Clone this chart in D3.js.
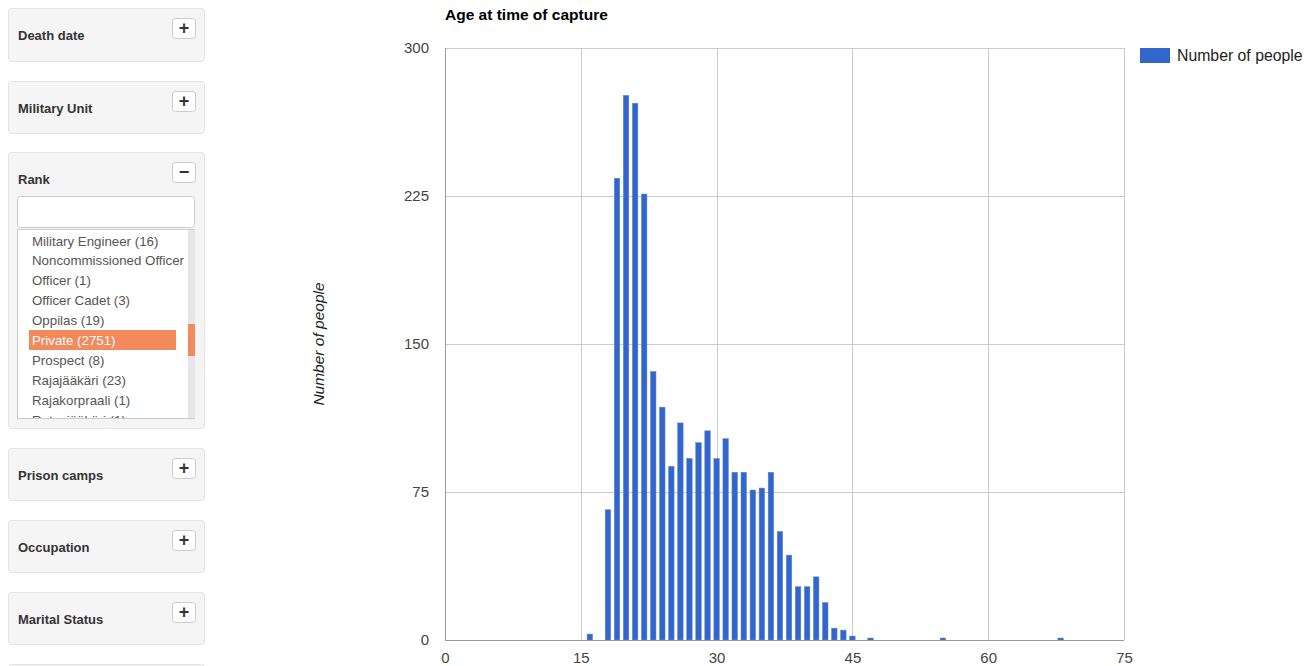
<!DOCTYPE html>
<html>
<head>
<meta charset="utf-8">
<script src="https://cdn.jsdelivr.net/npm/d3@7"></script>
<style>
  html, body { margin: 0; padding: 0; background: #fff; overflow: hidden; }
  svg { display: block; }
  text { font-family: "Liberation Sans", Arial, Helvetica, sans-serif; }
</style>
</head>
<body>
<svg id="chart" width="1316" height="666"></svg>
<script>
// ---- Data ----
const ages   = [16, 18, 19, 20, 21, 22, 23, 24, 25, 26, 27, 28, 29, 30, 31, 32, 33, 34, 35, 36, 37, 38, 39, 40, 41, 42, 43, 44, 45, 47, 55, 68];
const counts = [3, 66, 234, 276, 272, 226, 136, 118, 88, 110, 92, 100, 106, 92, 102, 85, 85, 76, 77, 85, 55, 43, 27, 27, 32, 19, 6, 5, 2, 1, 1, 1];
const xTicks = [0, 15, 30, 45, 60, 75];
const yTicks = [0, 75, 150, 225, 300];
const chartTitle = "Age at time of capture";
const yTitle = "Number of people";
const seriesName = "Number of people";

const panels = ["Death date", "Military Unit", "Rank", "Prison camps", "Occupation", "Marital Status", ""];
const rankItems = ["Military Engineer (16)", "Noncommissioned Officer (2)", "Officer (1)", "Officer Cadet (3)", "Oppilas (19)", "Private (2751)", "Prospect (8)", "Rajajääkäri (23)", "Rajakorpraali (1)", "Ratsujääkäri (1)"];
const selectedRank = "Private (2751)";

const svg = d3.select("#chart");

// ---- Sidebar ----
const side = svg.append("g");
const panelTops = [8, 81, 152, 448, 520, 592, 664];
const panelHeights = [53, 52, 276, 52, 52, 52, 40];
panels.forEach((p, i) => {
  const g = side.append("g");
  g.append("rect").attr("x", 8.5).attr("y", panelTops[i] + 0.5).attr("width", 196).attr("height", panelHeights[i])
    .attr("rx", 3).attr("fill", "#f5f5f5").attr("stroke", "#e3e3e3");
  if (p === "") return;
  g.append("text").attr("x", 18).attr("y", panelTops[i] + 32).attr("font-size", 13).attr("font-weight", "bold")
    .attr("fill", "#333").text(p);
  g.append("rect").attr("x", 172.5).attr("y", panelTops[i] + 10.5).attr("width", 23).attr("height", 20)
    .attr("rx", 3).attr("fill", "#fff").attr("stroke", "#ccc");
  g.append("text").attr("x", 184).attr("y", panelTops[i] + 26).attr("text-anchor", "middle")
    .attr("font-size", 18).attr("font-weight", "bold").attr("fill", "#333")
    .text(p === "Rank" ? "−" : "+");
});

// Rank search box
side.append("rect").attr("x", 17.5).attr("y", 196.5).attr("width", 177).attr("height", 31)
  .attr("rx", 3).attr("fill", "#fff").attr("stroke", "#ccc");
// list box
side.append("rect").attr("x", 17.5).attr("y", 229.5).attr("width", 177).attr("height", 189)
  .attr("fill", "#fff").attr("stroke", "#ccc");
side.append("rect").attr("x", 188).attr("y", 230).attr("width", 7).attr("height", 188).attr("fill", "#e6e6e6");
side.append("rect").attr("x", 188).attr("y", 324).attr("width", 7).attr("height", 32).attr("fill", "#f28a5e");
svg.append("defs").append("clipPath").attr("id", "listclip")
  .append("rect").attr("x", 18).attr("y", 230).attr("width", 166).attr("height", 188);
const list = side.append("g").attr("clip-path", "url(#listclip)");
const rowY = d3.scaleBand().domain(rankItems).range([230.5, 429.5]);
rankItems.forEach(it => {
  if (it === selectedRank) {
    list.append("rect").attr("x", 29).attr("y", rowY(it)).attr("width", 147).attr("height", 20).attr("fill", "#f28a5e");
  }
  list.append("text").attr("x", 32).attr("y", rowY(it) + 15).attr("font-size", 13.3)
    .attr("fill", it === selectedRank ? "#fff" : "#555").text(it);
});

// ---- Chart ----
const x = d3.scaleLinear().domain([0, 75]).range([445, 1124]);
const y = d3.scaleLinear().domain([0, 300]).range([640, 48]);

const grid = svg.append("g");
grid.selectAll("line.v").data(xTicks.slice(1)).join("line")
  .attr("x1", d => Math.round(x(d)) + 0.5).attr("x2", d => Math.round(x(d)) + 0.5)
  .attr("y1", y(300)).attr("y2", y(0)).attr("stroke", "#cccccc");
grid.selectAll("line.h").data(yTicks.slice(1)).join("line")
  .attr("x1", x(0)).attr("x2", x(75))
  .attr("y1", d => Math.round(y(d)) + 0.5).attr("y2", d => Math.round(y(d)) + 0.5).attr("stroke", "#cccccc");

const bw = 5.5;
svg.append("g").selectAll("rect").data(ages.map((a, i) => ({ a, c: counts[i] }))).join("rect")
  .attr("x", d => x(d.a) - bw / 2).attr("width", bw)
  .attr("y", d => y(d.c)).attr("height", d => y(0) - y(d.c))
  .attr("fill", "#3366cc").attr("stroke", "#5c85d6").attr("stroke-width", 0.5);

// baselines
svg.append("line").attr("x1", x(0)).attr("x2", x(75)).attr("y1", y(0) + 0.5).attr("y2", y(0) + 0.5).attr("stroke", "#999");
svg.append("line").attr("x1", x(0) + 0.5).attr("x2", x(0) + 0.5).attr("y1", y(300)).attr("y2", y(0)).attr("stroke", "#999");

// axes labels
const xAxis = d3.axisBottom(x).tickValues(xTicks).tickSize(0).tickPadding(12);
const gx = svg.append("g").attr("transform", `translate(0,${y(0)})`).call(xAxis);
gx.select(".domain").remove();
gx.selectAll("text").attr("font-size", 15).attr("fill", "#444").attr("font-family", "Liberation Sans, Arial");

const yAxis = d3.axisLeft(y).tickValues(yTicks).tickSize(0).tickPadding(16);
const gy = svg.append("g").attr("transform", `translate(${x(0)},0)`).call(yAxis);
gy.select(".domain").remove();
gy.selectAll("text").attr("font-size", 15).attr("fill", "#444").attr("font-family", "Liberation Sans, Arial");

// title
svg.append("text").attr("x", 445).attr("y", 20).attr("font-size", 15.5).attr("font-weight", "bold")
  .attr("fill", "#000").text(chartTitle);
// y title
svg.append("text").attr("transform", "translate(324,344) rotate(-90)").attr("text-anchor", "middle")
  .attr("font-size", 15.5).attr("font-style", "italic").attr("fill", "#222").text(yTitle);

// legend
svg.append("rect").attr("x", 1140).attr("y", 48).attr("width", 30).attr("height", 15).attr("fill", "#3366cc");
svg.append("text").attr("x", 1177).attr("y", 61).attr("font-size", 15.8).attr("fill", "#222").text(seriesName);
</script>
</body>
</html>
